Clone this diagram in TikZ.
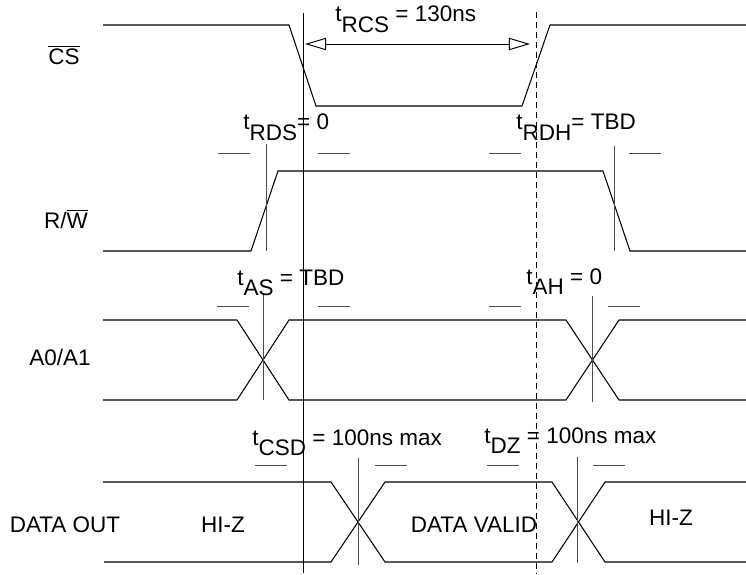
\documentclass[tikz,border=0pt]{standalone}
\usepackage{fontspec}
\setmainfont{Liberation Sans}
\usetikzlibrary{arrows.meta}

\newcommand{\tlab}[1]{t\raisebox{-0.45em}{#1}}

\begin{document}
\begin{tikzpicture}[x=0.02cm, y=-0.02cm, line width=0.55pt,
    wave/.style={line width=0.6pt},
    guide/.style={line width=0.5pt},
    bar/.style={line width=0.55pt, black!70},
    txt/.style={font=\fontsize{12.8}{15}\selectfont, inner sep=0pt}]
  \useasboundingbox (0,0) rectangle (746,574);

  % signal names
  \node[txt, anchor=base] (cs)   at (64,65)   {$\overline{\mbox{CS}}$};
  \node[txt, anchor=base] (rw)   at (66,228)  {R/$\overline{\mbox{W}}$};
  \node[txt, anchor=base] (addr) at (60,365)  {A0/A1};
  \node[txt, anchor=base] (dout) at (65,532)  {DATA OUT};
  \node[txt, anchor=base] (hiz1) at (223,532) {HI-Z};
  \node[txt, anchor=base] (dval) at (474,532) {DATA VALID};
  \node[txt, anchor=base] (hiz2) at (671,525) {HI-Z};

  % waveforms
  \draw[wave] (103,25) -- (289,25) -- (316,106) -- (522,106) -- (550,25) -- (746,25);
  \draw[wave] (103,251) -- (251,251) -- (278,171) -- (603,171) -- (630,251) -- (746,251);
  \draw[wave] (103,320) -- (237,320) -- (289,400) -- (566,400) -- (619,320) -- (746,320);
  \draw[wave] (103,400) -- (237,400) -- (289,320) -- (566,320) -- (619,400) -- (746,400);
  \draw[wave] (103,482) -- (331,482) -- (385,562) -- (552,562) -- (605,482) -- (746,482);
  \draw[wave] (104,562) -- (331,562) -- (385,482) -- (552,482) -- (605,562) -- (746,562);

  % reference lines
  \coordinate (fall) at (303,13);
  \coordinate (rise) at (536,12);
  \draw[guide] (fall) -- (303,573);
  \draw[guide, dash pattern=on 3.4pt off 2.3pt] (rise) -- (536,574);

  % edge markers
  \draw[bar] (266,144) -- (266,251);
  \draw[bar] (614,146) -- (614,251);
  \draw[bar] (263,293) -- (263,400);
  \draw[bar] (592,296) -- (592,402);
  \draw[bar] (358,458) -- (358,565);
  \draw[bar] (577,457) -- (577,563);
  \foreach \x/\y in {218/153, 318/153, 489/153, 629/153,
                     217/306, 318/306, 489/306, 608/306,
                     255/465, 375/465, 487/465, 593/465}
    \draw[bar] (\x,\y) -- ++(32,0);

  % t_RCS
  \coordinate (rcsl) at (305,44);
  \coordinate (rcsr) at (530,44);
  \draw[line width=0.55pt, {Triangle[open, length=12pt, width=7pt]}-{Triangle[open, length=12pt, width=7pt]}] (rcsl) -- (rcsr);

  % timing labels
  \node[txt, anchor=base west] (trcs) at (335,22)  {\tlab{RCS} = 130ns};
  \node[txt, anchor=base west] (trds) at (243,130) {\tlab{RDS}= 0};
  \node[txt, anchor=base west] (trdh) at (516,130) {\tlab{RDH}= TBD};
  \node[txt, anchor=base west] (tas)  at (237,285) {\tlab{AS} = TBD};
  \node[txt, anchor=base west] (tah)  at (526,284) {\tlab{AH} = 0};
  \node[txt, anchor=base west] (tcsd) at (252,445) {\tlab{CSD} = 100ns max};
  \node[txt, anchor=base west] (tdz)  at (484,443) {\tlab{DZ} = 100ns max};
\end{tikzpicture}
\end{document}
